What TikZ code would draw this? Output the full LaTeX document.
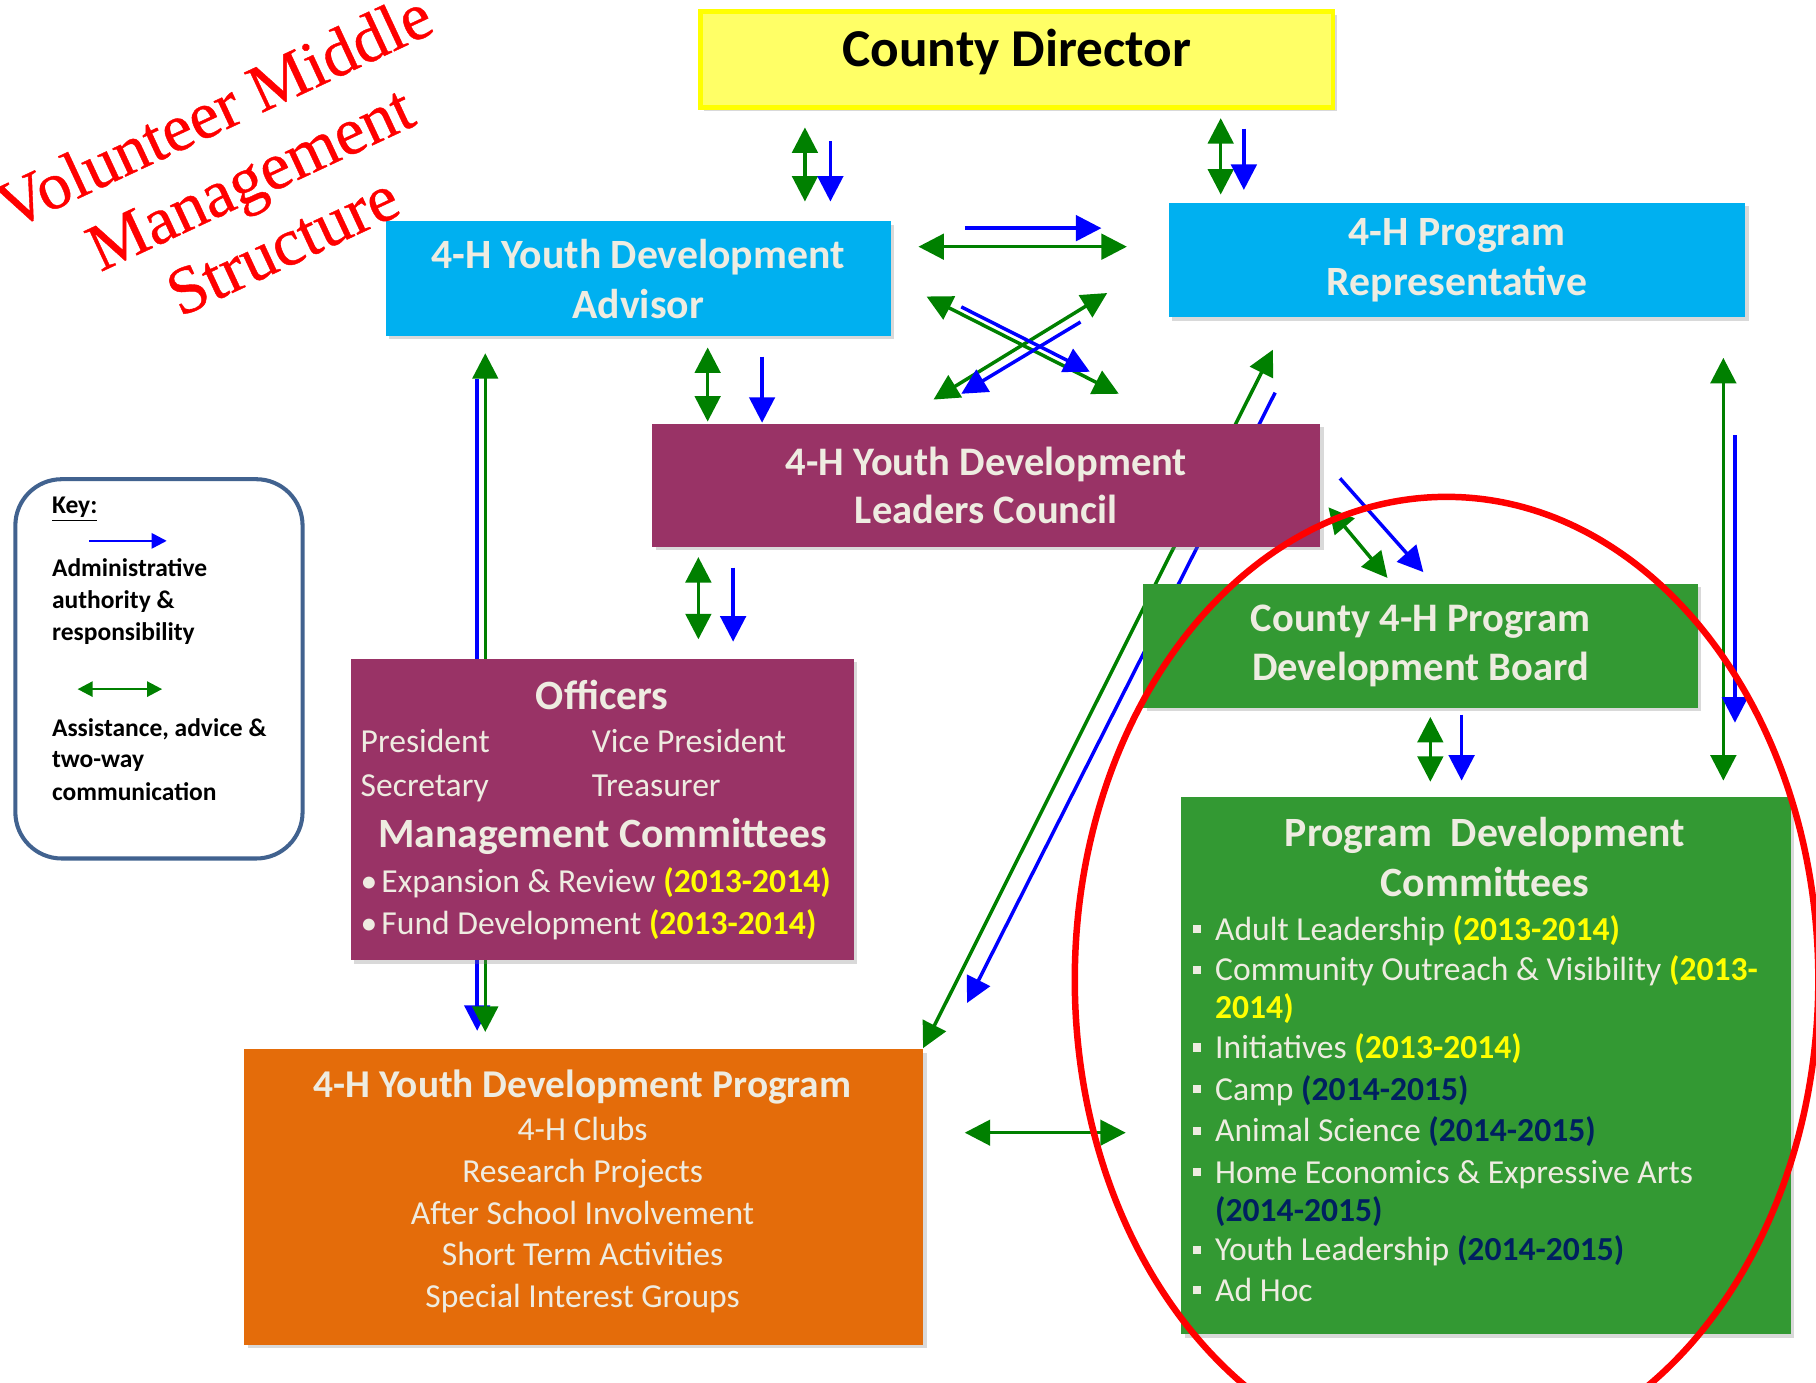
\documentclass[tikz,border=0pt]{standalone}
\usepackage{fontspec}
\setmainfont{Carlito}
\newfontfamily\titlefont[FakeBold=0.6]{Liberation Serif}
\usetikzlibrary{arrows.meta,shadows}

\definecolor{cdfill}{HTML}{FFFF66}
\definecolor{cdline}{HTML}{FFFF00}
\definecolor{skyblue}{HTML}{00B0F0}
\definecolor{plum}{HTML}{993366}
\definecolor{boardgreen}{HTML}{339933}
\definecolor{progorange}{HTML}{E46C0A}
\definecolor{paper}{HTML}{EEECE1}
\definecolor{admin}{HTML}{0000FF}
\definecolor{assist}{HTML}{008000}
\definecolor{keyline}{HTML}{41628F}
\definecolor{yearyellow}{HTML}{FFFF00}
\definecolor{yearnavy}{HTML}{002060}

\newcommand{\hdfont}{\bfseries\fontsize{18}{21.6}\selectfont}
\newcommand{\bodyfont}{\fontsize{14.5}{17.4}\selectfont}
\newcommand{\yrA}[1]{{\bfseries\color{yearyellow}#1}}
\newcommand{\yrB}[1]{{\bfseries\color{yearnavy}#1}}
\newcommand{\sqbul}{\makebox[9.4pt][l]{\rule[0.21em]{0.24em}{0.24em}}}
\newcommand{\rdbul}{\makebox[9pt][l]{•}}

\begin{document}
\begin{tikzpicture}[x=0.5pt, y=-0.5pt,
    box/.style={inner sep=0pt, align=center, text=paper, font=\hdfont,
      drop shadow={shadow xshift=1.5pt, shadow yshift=-1.5pt, opacity=0.3}},
    txt/.style={inner sep=0pt, text=paper, font=\bodyfont},
    adm/.style={admin, line width=1.5pt, -{Triangle[length=11pt, width=11pt]}},
    ast/.style={assist, line width=1.5pt,
      {Triangle[length=11pt, width=11pt]}-{Triangle[length=11pt, width=11pt]}},
    keyadm/.style={admin, line width=1.1pt, -{Triangle[length=6.5pt, width=6.5pt]}},
    keyast/.style={assist, line width=1.1pt,
      {Triangle[length=6.5pt, width=6.5pt]}-{Triangle[length=6.5pt, width=6.5pt]}},
    keytxt/.style={inner sep=0pt, anchor=base west, font=\bfseries\fontsize{11}{13.2}\selectfont},
    titletxt/.style={red, inner sep=0pt, anchor=base, rotate=25, font=\titlefont\fontsize{29}{34}\selectfont}]
  \useasboundingbox (0,0) rectangle (1568,1194);

  % arrow ends
  \coordinate (cdadvG1) at (695,110);
  \coordinate (cdadvG2) at (695,174);
  \coordinate (cdadvB1) at (717,122);
  \coordinate (cdadvB2) at (717,174);
  \coordinate (cdrepG1) at (1054,102);
  \coordinate (cdrepG2) at (1054,168);
  \coordinate (cdrepB1) at (1074,111);
  \coordinate (cdrepB2) at (1074,164);
  \coordinate (advrepB1) at (833,197);
  \coordinate (advrepB2) at (951,197);
  \coordinate (advrepG1) at (793,213);
  \coordinate (advrepG2) at (973,213);
  \coordinate (crossG1) at (800,256);
  \coordinate (crossG2) at (966,340);
  \coordinate (crossG3) at (806,345);
  \coordinate (crossG4) at (956,253);
  \coordinate (crossB1) at (830,265);
  \coordinate (crossB2) at (941,321);
  \coordinate (crossB3) at (933,278);
  \coordinate (crossB4) at (830,340);
  \coordinate (advcouG1) at (611,300);
  \coordinate (advcouG2) at (611,364);
  \coordinate (advcouB1) at (658,308);
  \coordinate (advcouB2) at (658,365);
  \coordinate (couoffG1) at (603,481);
  \coordinate (couoffG2) at (603,552);
  \coordinate (couoffB1) at (633,490);
  \coordinate (couoffB2) at (633,554);
  \coordinate (advprgG1) at (419,305);
  \coordinate (advprgG2) at (419,891);
  \coordinate (advprgB1) at (412,327);
  \coordinate (advprgB2) at (412,890);
  \coordinate (repprgG1) at (1099,302);
  \coordinate (repprgG2) at (797,905);
  \coordinate (repprgB1) at (1101,339);
  \coordinate (repprgB2) at (835,866);
  \coordinate (couboaG1) at (1147,438);
  \coordinate (couboaG2) at (1198,499);
  \coordinate (couboaB1) at (1157,413);
  \coordinate (couboaB2) at (1229,494);
  \coordinate (boapdcG1) at (1235,619);
  \coordinate (boapdcG2) at (1235,675);
  \coordinate (boapdcB1) at (1262,617);
  \coordinate (boapdcB2) at (1262,674);
  \coordinate (reppdcG1) at (1488,309);
  \coordinate (reppdcG2) at (1488,674);
  \coordinate (reppdcB1) at (1498,376);
  \coordinate (reppdcB2) at (1498,624);
  \coordinate (prgpdcG1) at (833,978);
  \coordinate (prgpdcG2) at (972,978);

  % lines that run behind the boxes
  \draw[adm] (advprgB1) -- (advprgB2);
  \draw[ast] (advprgG1) -- (advprgG2);
  \draw[adm] (repprgB1) -- (repprgB2);
  \draw[ast] (repprgG1) -- (repprgG2);

  % boxes
  \node[box, draw=cdline, line width=2pt, fill=cdfill, minimum width=273pt, minimum height=41.5pt] (director) at (878,51.5) {};
  \node[inner sep=0pt, anchor=base, font=\bfseries\fontsize{23}{27}\selectfont] (cdtext) at (878,57.5) {County Director};
  \node[box, fill=skyblue, minimum width=218pt, minimum height=49.5pt] (advisor) at (551,240.5) {4-H Youth Development\\Advisor};
  \node[box, fill=skyblue, minimum width=249pt, minimum height=49.5pt] (progrep) at (1258,224.5) {4-H Program\\Representative};
  \node[box, fill=plum, minimum width=288.5pt, minimum height=53pt, font=\bfseries\fontsize{17.5}{21}\selectfont] (council) at (851.5,419) {4-H Youth Development\\Leaders Council};
  \node[box, fill=boardgreen, minimum width=239.5pt, minimum height=53.5pt, font=\bfseries\fontsize{17.5}{21}\selectfont] (board) at (1226.5,557.5) {County 4-H Program\\Development Board};
  \node[box, fill=plum, minimum width=217pt, minimum height=130pt] (officers) at (520,699) {};
  \node[box, fill=progorange, minimum width=293pt, minimum height=127.5pt] (program) at (504,1033.5) {};
  \node[box, fill=boardgreen, minimum width=263pt, minimum height=232pt] (pdc) at (1283,920) {};

  % officers
  \node[txt, font=\hdfont, anchor=base] (offhead) at (520,613) {Officers};
  \node[txt, anchor=base west] (pres) at (311,650) {President};
  \node[txt, anchor=base west] (vpres) at (510.6,650) {Vice President};
  \node[txt, anchor=base west] (secr) at (311,688) {Secretary};
  \node[txt, anchor=base west] (treas) at (510.6,688) {Treasurer};
  \node[txt, font=\hdfont, anchor=base] (mchead) at (520.5,732) {Management Committees};
  \node[txt, anchor=base west] (mcexp) at (311,771) {\rdbul Expansion \& Review \yrA{(2013-2014)}};
  \node[txt, anchor=base west] (mcfund) at (311,807) {\rdbul Fund Development \yrA{(2013-2014)}};

  % youth development program
  \node[txt, font=\bfseries\fontsize{17}{20.4}\selectfont, anchor=base] (proghead) at (503,948) {4-H Youth Development Program};
  \node[txt, anchor=base] (prgclubs) at (503,985) {4-H Clubs};
  \node[txt, anchor=base] (prgresearch) at (503,1020.7) {Research Projects};
  \node[txt, anchor=base] (prgafter) at (503,1057) {After School Involvement};
  \node[txt, anchor=base] (prgshort) at (503,1093) {Short Term Activities};
  \node[txt, anchor=base] (prgspecial) at (503,1128.6) {Special Interest Groups};

  % program development committees
  \node[txt, font=\hdfont, anchor=base] (pdchead) at (1282,730.6) {Program\ \ Development};
  \node[txt, font=\hdfont, anchor=base] (pdchead2) at (1282,774) {Committees};
  \node[txt, anchor=base west] (pdcadult) at (1030,811.7) {\sqbul Adult Leadership \yrA{(2013-2014)}};
  \node[txt, anchor=base west] (pdccomm) at (1030,847) {\sqbul Community Outreach \& Visibility \yrA{(2013-}};
  \node[txt, anchor=base west] (pdccomm2) at (1048.8,879.6) {\yrA{2014)}};
  \node[txt, anchor=base west] (pdcinit) at (1030,914) {\sqbul Initiatives \yrA{(2013-2014)}};
  \node[txt, anchor=base west] (pdccamp) at (1030,950) {\sqbul Camp \yrB{(2014-2015)}};
  \node[txt, anchor=base west] (pdcanimal) at (1030,986) {\sqbul Animal Science \yrB{(2014-2015)}};
  \node[txt, anchor=base west] (pdchome) at (1030,1021.5) {\sqbul Home Economics \& Expressive Arts};
  \node[txt, anchor=base west] (pdchome2) at (1048.8,1054.6) {\yrB{(2014-2015)}};
  \node[txt, anchor=base west] (pdcyouth) at (1030,1088.7) {\sqbul Youth Leadership \yrB{(2014-2015)}};
  \node[txt, anchor=base west] (pdcadhoc) at (1030,1123.6) {\sqbul Ad Hoc};

  % arrows between boxes
  \draw[ast] (cdadvG1) -- (cdadvG2);
  \draw[adm] (cdadvB1) -- (cdadvB2);
  \draw[ast] (cdrepG1) -- (cdrepG2);
  \draw[adm] (cdrepB1) -- (cdrepB2);
  \draw[adm] (advrepB1) -- (advrepB2);
  \draw[ast] (advrepG1) -- (advrepG2);
  \draw[ast] (crossG1) -- (crossG2);
  \draw[ast] (crossG3) -- (crossG4);
  \draw[adm] (crossB1) -- (crossB2);
  \draw[adm] (crossB3) -- (crossB4);
  \draw[ast] (advcouG1) -- (advcouG2);
  \draw[adm] (advcouB1) -- (advcouB2);
  \draw[ast] (couoffG1) -- (couoffG2);
  \draw[adm] (couoffB1) -- (couoffB2);
  \draw[ast] (couboaG1) -- (couboaG2);
  \draw[adm] (couboaB1) -- (couboaB2);
  \draw[ast] (boapdcG1) -- (boapdcG2);
  \draw[adm] (boapdcB1) -- (boapdcB2);
  \draw[ast] (reppdcG1) -- (reppdcG2);
  \draw[adm] (reppdcB1) -- (reppdcB2);
  \draw[ast] (prgpdcG1) -- (prgpdcG2);

  % key
  \node[draw=keyline, line width=1.75pt, fill=white, rounded corners=20pt, minimum width=124pt, minimum height=163.75pt] (keybox) at (137.25,577.5) {};
  \node[keytxt] (keyhead) at (44.6,443) {\underline{Key:}};
  \coordinate (keyB1) at (77,467);
  \coordinate (keyB2) at (144,467);
  \draw[keyadm] (keyB1) -- (keyB2);
  \node[keytxt] (keyadm1) at (44.6,498) {Administrative};
  \node[keytxt] (keyadm2) at (44.6,525) {authority \&};
  \node[keytxt] (keyadm3) at (44.6,553) {responsibility};
  \coordinate (keyG1) at (67,595);
  \coordinate (keyG2) at (140,595);
  \draw[keyast] (keyG1) -- (keyG2);
  \node[keytxt] (keyast1) at (44.6,636) {Assistance, advice \&};
  \node[keytxt] (keyast2) at (44.6,663) {two-way};
  \node[keytxt] (keyast3) at (44.6,691) {communication};

  % title
  \node[titletxt] (title1) at (193,113) {Volunteer Middle};
  \node[titletxt] (title2) at (224,171) {Management};
  \node[titletxt] (title3) at (252,229) {Structure};

  % ring round the program side
  \draw[red, line width=2.8pt] (1249,846) ellipse [x radius=321, y radius=417];
\end{tikzpicture}
\end{document}
